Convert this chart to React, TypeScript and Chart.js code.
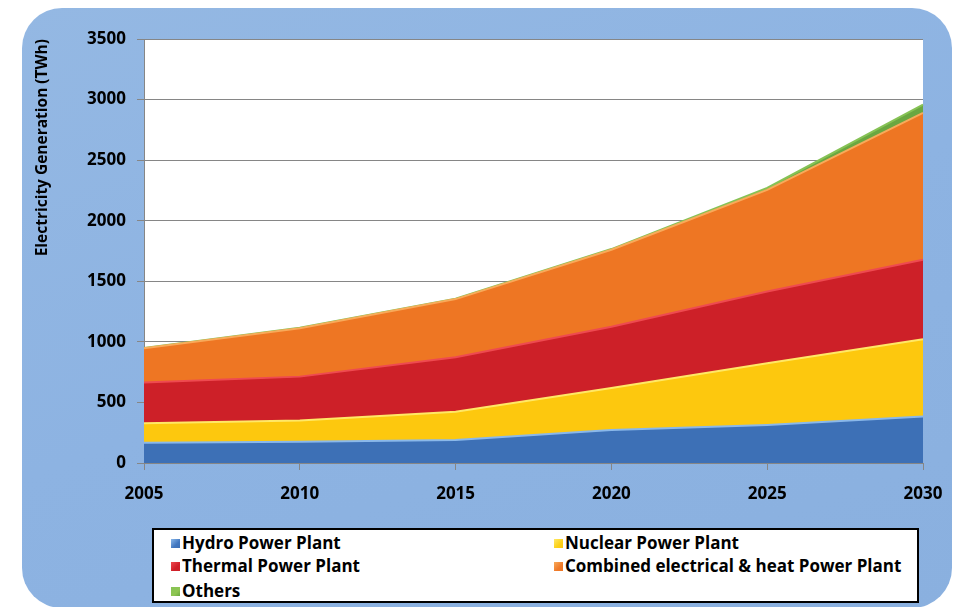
import { useEffect, useRef } from 'react';
import { Chart, registerables } from 'chart.js';

Chart.register(...registerables);

const years = ['2005', '2010', '2015', '2020', '2025', '2030'];
const hydro = [168, 176, 190, 273, 314, 383];
const nuclear = [160, 174, 234, 347, 510, 639];
const thermal = [336, 363, 449, 504, 592, 656];
const combined = [284, 400, 480, 636, 839, 1212];
const others = [2, 3, 4, 6, 15, 68];

const seriesNames = [
  'Hydro Power Plant',
  'Nuclear Power Plant',
  'Thermal Power Plant',
  'Combined electrical & heat Power Plant',
  'Others',
];
const fillColors = ['#3d70b6', '#fdc80e', '#cd2028', '#ee7623', '#6aa741'];
const edgeColors = ['#8ab8ea', '#ffe866', '#ee4a50', '#f8aa5a', '#86c255'];
const legendColors = ['#4177c0', '#fcd21a', '#d0202a', '#ef7a2a', '#8ec652'];

const FONT = '"Open Sans", sans-serif';

const plotBg = {
  id: 'plotBg',
  beforeDraw(chart: any) {
    const { ctx, chartArea } = chart;
    const { left, top, right, bottom } = chartArea;
    ctx.save();
    ctx.fillStyle = '#ffffff';
    ctx.fillRect(left, top, right - left, bottom - top);
    ctx.restore();
  },
};

export default function App() {
  const canvasRef = useRef<HTMLCanvasElement | null>(null);

  useEffect(() => {
    const canvas = canvasRef.current;
    if (!canvas) return;
    const values = [hydro, nuclear, thermal, combined, others];
    const chart = new Chart(canvas, {
      type: 'line',
      data: {
        labels: years,
        datasets: values.map((v, i) => ({
          label: seriesNames[i],
          data: v,
          backgroundColor: fillColors[i],
          borderColor: edgeColors[i],
          borderWidth: 2,
          fill: i === 0 ? 'origin' : '-1',
          pointRadius: 0,
          tension: 0,
        })),
      },
      options: {
        responsive: false,
        animation: false,
        layout: { padding: { left: 0, top: 39, right: 32, bottom: 94 } },
        plugins: {
          legend: { display: false },
          tooltip: { enabled: false },
        },
        scales: {
          x: {
            type: 'category',
            offset: false,
            grid: {
              drawOnChartArea: false,
              drawTicks: true,
              tickLength: 7,
              color: '#868686',
            },
            border: { color: '#868686', width: 1 },
            ticks: {
              color: '#000',
              font: { family: FONT, size: 17, weight: 'bold' },
              padding: 14,
              maxRotation: 0,
              autoSkip: false,
            },
            afterFit(scale: any) {
              scale.height = 50;
              scale.paddingLeft = 0;
              scale.paddingRight = 0;
            },
          },
          y: {
            stacked: true,
            min: 0,
            max: 3500,
            ticks: {
              stepSize: 500,
              color: '#000',
              font: { family: FONT, size: 17, weight: 'bold' },
              padding: 11,
              callback: (v: any) => String(v),
            },
            grid: { color: '#868686', tickLength: 7 },
            border: { color: '#868686', width: 1 },
            title: {
              display: true,
              text: 'Electricity Generation (TWh)',
              color: '#000',
              align: 'end',
              font: { family: FONT, size: 15.5, weight: 'bold' },
              padding: { top: 33, bottom: 0 },
            },
            afterFit(scale: any) {
              scale.width = 144;
              scale.paddingTop = 0;
              scale.paddingBottom = 0;
            },
          },
        },
      },
      plugins: [plotBg],
    });
    return () => chart.destroy();
  }, []);

  const rowTops = [13, 36, 61];
  const items = [
    { i: 0, col: 0, row: 0 },
    { i: 1, col: 1, row: 0 },
    { i: 2, col: 0, row: 1 },
    { i: 3, col: 1, row: 1 },
    { i: 4, col: 0, row: 2 },
  ];

  return (
    <div style={{ position: 'fixed', left: 0, top: 0, width: 955, height: 607, background: '#fff', overflow: 'hidden' }}>
      <div
        style={{
          position: 'absolute',
          left: 22,
          top: 8,
          width: 930,
          height: 600,
          borderRadius: 40,
          background: 'linear-gradient(160deg, #94b8e3 0%, #8db3e2 50%, #8ab0df 100%)',
        }}
      />
      <canvas ref={canvasRef} width={955} height={607} style={{ position: 'absolute', left: 0, top: 0 }} />
      <div
        style={{
          position: 'absolute',
          left: 152,
          top: 528,
          width: 767,
          height: 75,
          boxSizing: 'border-box',
          border: '2px solid #000',
          background: '#fff',
          fontFamily: FONT,
          fontWeight: 'bold',
          fontSize: 17,
          color: '#000',
        }}
      >
        {items.map(({ i, col, row }) => (
          <div
            key={i}
            style={{
              position: 'absolute',
              left: col === 0 ? 17 : 400,
              top: rowTops[row] - 11,
              height: 22,
              display: 'flex',
              alignItems: 'center',
              whiteSpace: 'nowrap',
              lineHeight: '22px',
            }}
          >
            <span
              style={{
                display: 'inline-block',
                width: 9,
                height: 9,
                marginRight: 2,
                background: `linear-gradient(135deg, ${edgeColors[i]} 0%, ${legendColors[i]} 60%, ${fillColors[i]} 100%)`,
              }}
            />
            <span>{seriesNames[i]}</span>
          </div>
        ))}
      </div>
    </div>
  );
}
